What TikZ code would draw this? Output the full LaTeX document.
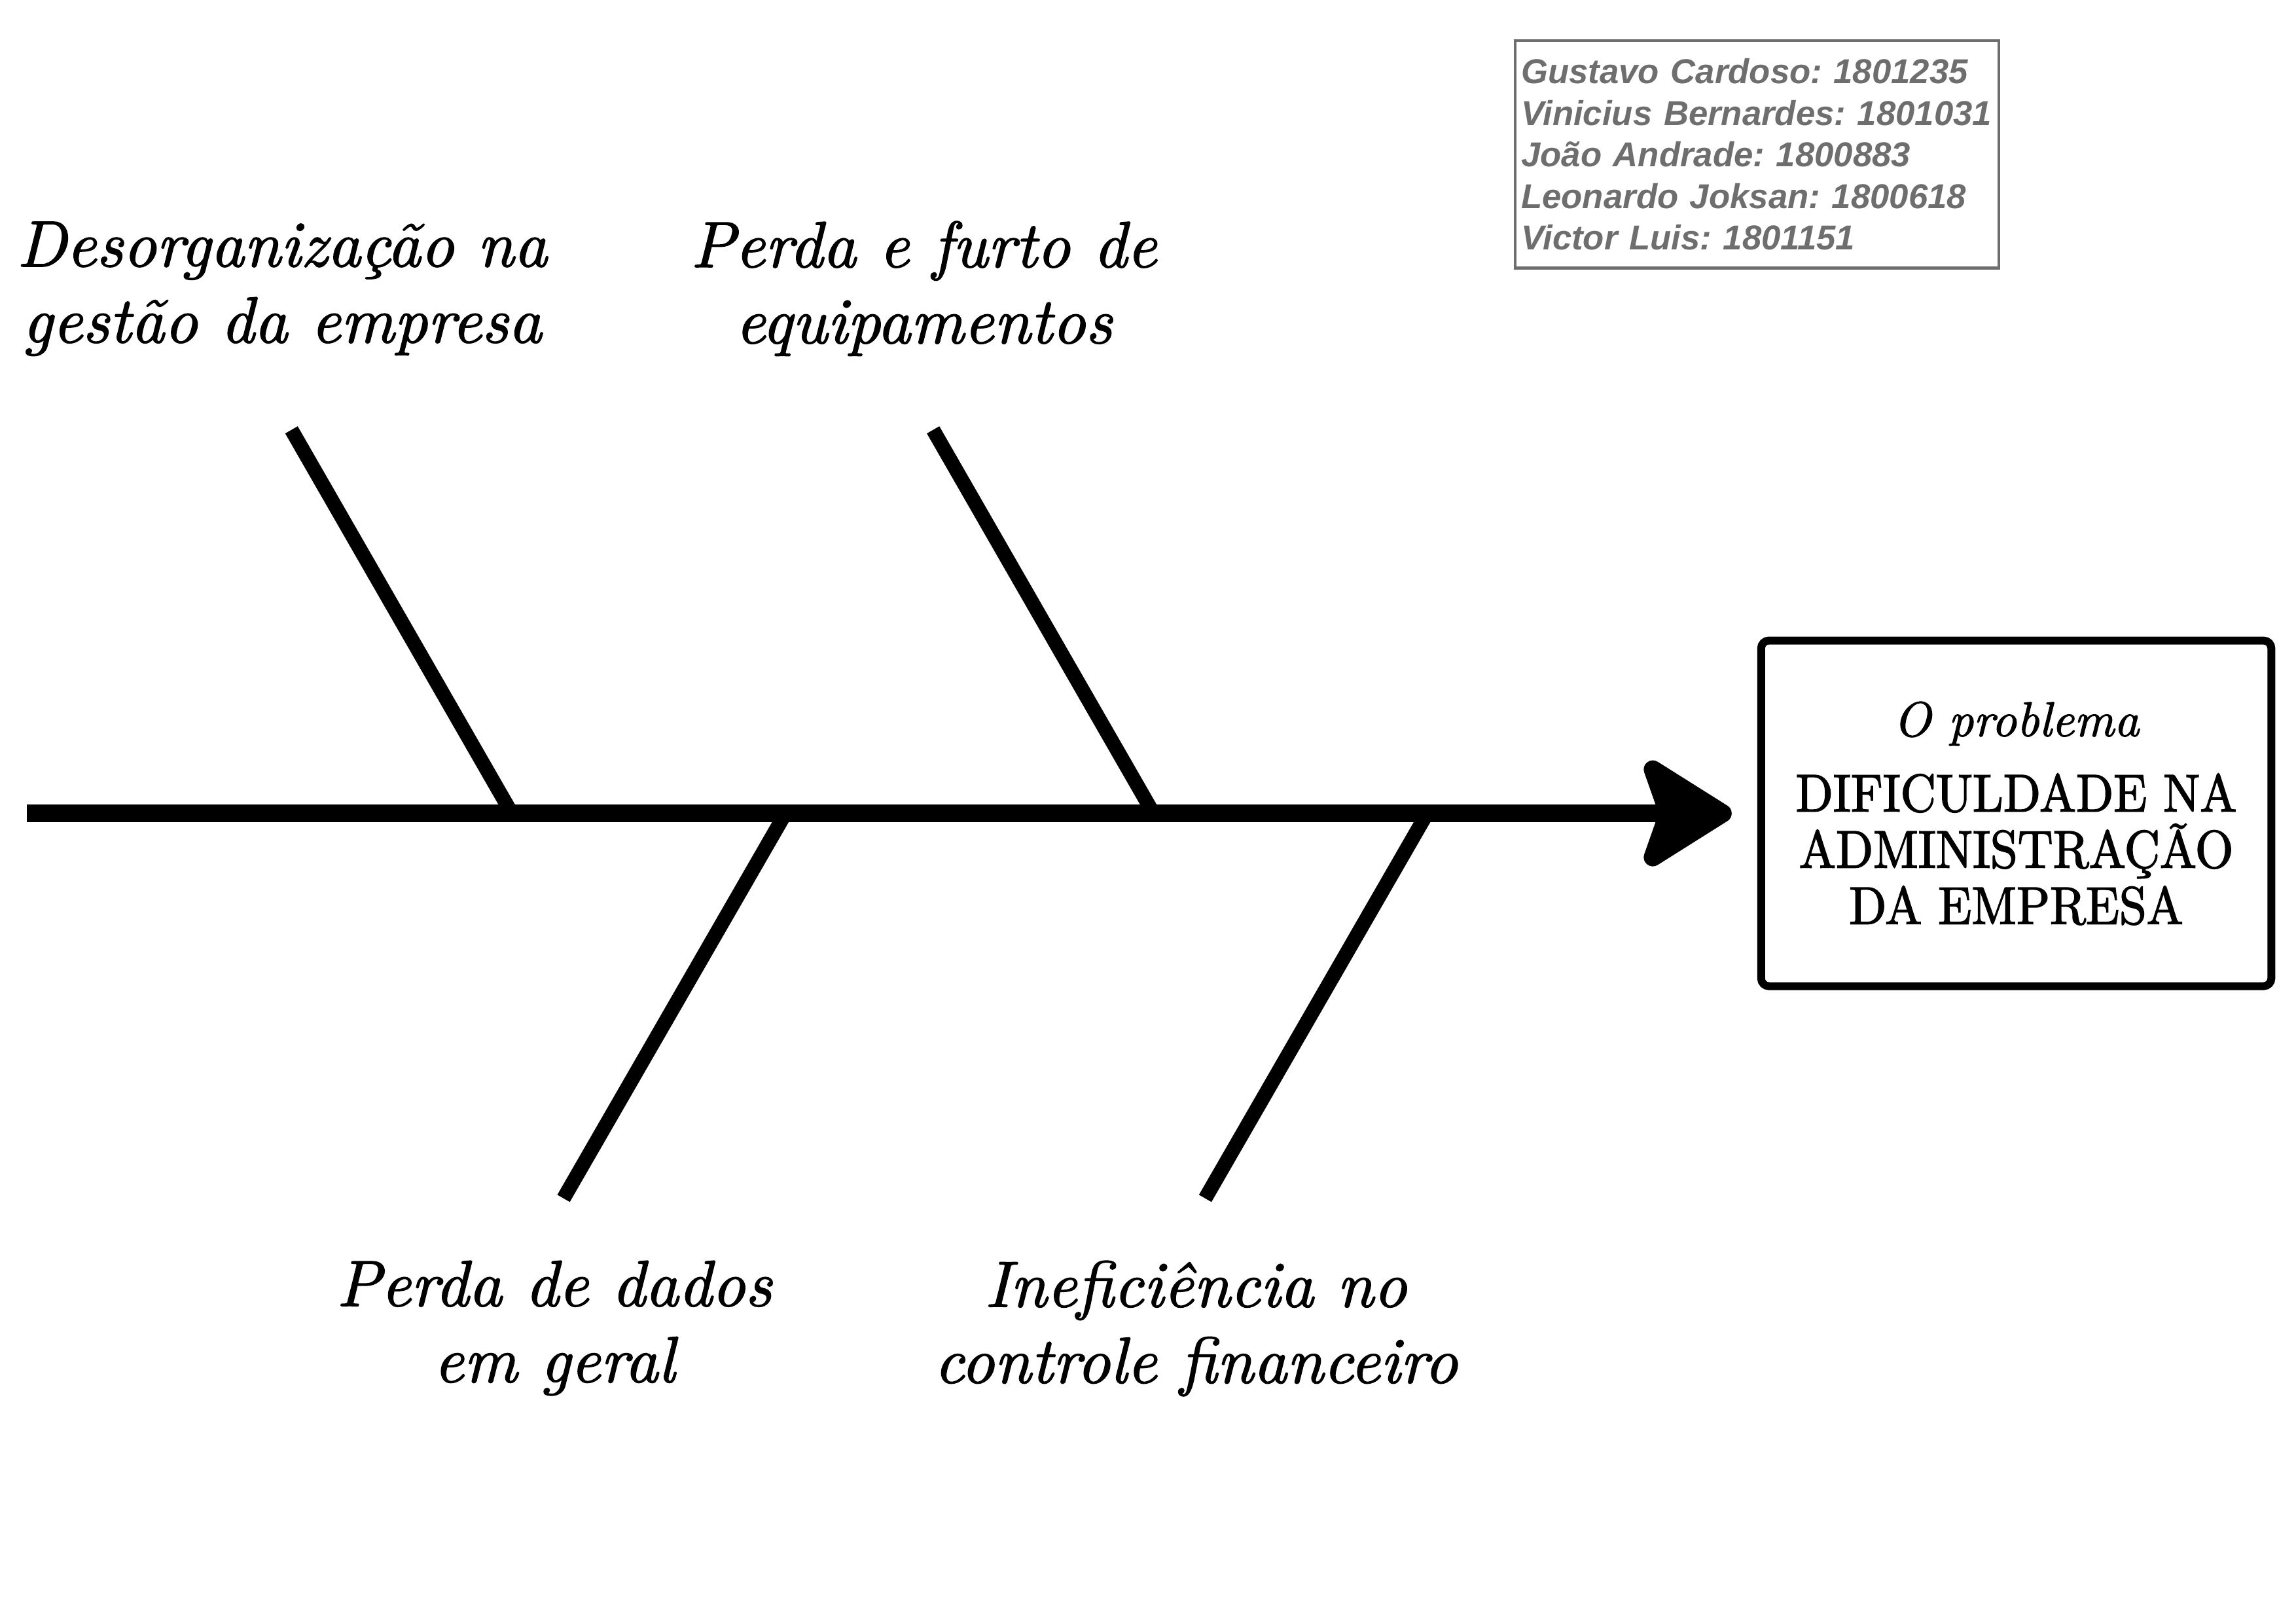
\documentclass[tikz,border=0pt]{standalone}
\usepackage{fontspec}
\usepackage{tikz}
\usetikzlibrary{
  arrows.meta,
  positioning
}
\newfontfamily\namesfont{Liberation Sans}
\newfontfamily\causefont[FakeBold=1.5]{lmroman10-italic.otf}
\newfontfamily\problemfont[FakeBold=2, FakeStretch=0.925]{lmroman10-regular.otf}
\definecolor{namecolor}{RGB}{110, 110, 110}
\definecolor{bonecolor}{RGB}{0, 0, 0}
\tikzset{
causetext/.style={
  align=center,
  inner sep=0pt,
  xshift=-1.2mm,
  font=\causefont\fontsize{24}{28}\selectfont
},
spine/.style={
  draw=bonecolor,
  line width=6.7pt,
  -{Stealth[length=13.3mm, width=16.5mm, inset=2.8mm, round]}
},
bone/.style={
  draw=bonecolor,
  line width=5.3pt
},
problembox/.style={
  draw=bonecolor,
  line width=2.9pt,
  rounded corners=1mm,
  minimum width=6.6cm,
  minimum height=4.47cm,
  align=center,
  font=\problemfont\fontsize{19.5}{20.7}\selectfont
},
namesbox/.style={
  draw=namecolor,
  line width=1pt,
  text=namecolor,
  align=left,
  text width=6.1cm,
  minimum height=2.94cm,
  inner xsep=0.8mm,
  font=\namesfont\fontsize{12.7}{15.3}\selectfont\bfseries\itshape
}
}

\begin{document}
\frenchspacing
\begin{tikzpicture}
  \useasboundingbox (0,0) rectangle (29.7,21);

  % spine and problem
  \coordinate (tail) at (0.35,10.48);
  \coordinate (tip) at (22.40,10.48);
  \draw[spine] (tail) -- (tip);
  \node[problembox, right=3.3mm of tip] (problem)
    {{\causefont\fontsize{18}{20.7}\selectfont O problema}\\[7pt]DIFICULDADE NA\\ADMINISTRAÇÃO\\DA EMPRESA};

  % bones
  \coordinate (foot1) at (6.62,10.48);
  \coordinate (foot2) at (14.92,10.48);
  \coordinate (foot3) at (10.16,10.48);
  \coordinate (foot4) at (18.46,10.48);
  \coordinate (end1) at (3.77,15.44);
  \coordinate (end2) at (12.07,15.44);
  \coordinate (end3) at (7.29,5.50);
  \coordinate (end4) at (15.59,5.50);
  \draw[bone] (end1) -- (foot1);
  \draw[bone] (end2) -- (foot2);
  \draw[bone] (end3) -- (foot3);
  \draw[bone] (end4) -- (foot4);

  % causes
  \node[causetext, above=9.5mm of end1] (cause1)
    {Desorganização na\\gestão da empresa};
  \node[causetext, above=9.5mm of end2] (cause2)
    {Perda e furto de\\equipamentos};
  \node[causetext, below=8mm of end3] (cause3)
    {Perda de dados\\em geral};
  \node[causetext, below=8mm of end4] (cause4)
    {Ineficiência no\\controle financeiro};

  % group members
  \node[namesbox, anchor=north west] (names) at (19.58,20.49)
    {Gustavo Cardoso: 1801235\\Vinicius Bernardes: 1801031\\João Andrade: 1800883\\Leonardo Joksan: 1800618\\Victor Luis: 1801151};
\end{tikzpicture}
\end{document}
